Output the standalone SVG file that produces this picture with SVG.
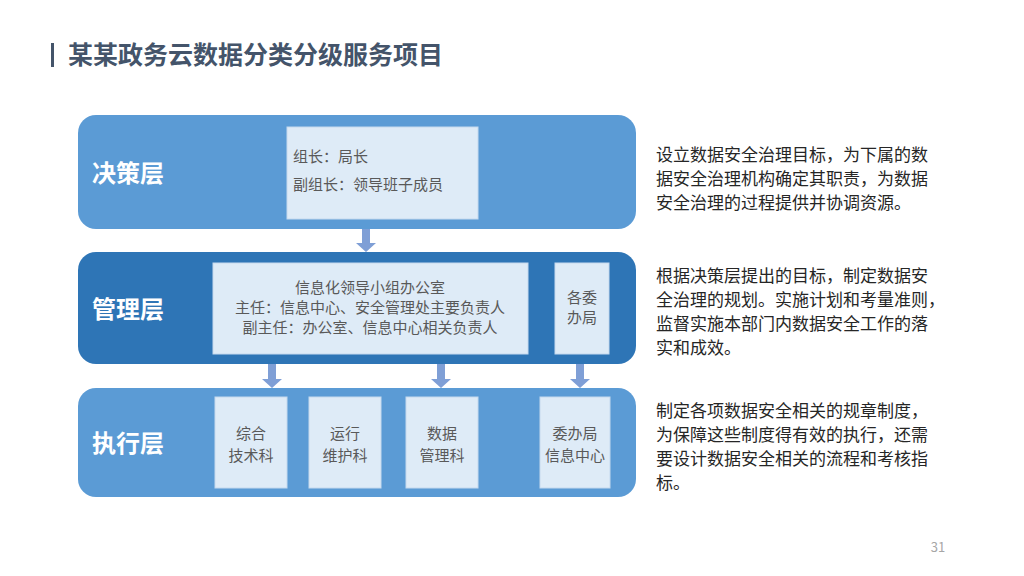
<svg xmlns="http://www.w3.org/2000/svg" width="1024" height="576" viewBox="0 0 1024 576">
<defs>
<style>
text{font-family:"Noto Sans CJK SC","Liberation Sans",sans-serif}
.band{fill:#5b9bd5}
.dark{fill:#2e75b6}
.box{fill:#deebf7;stroke:#c5d9ee;stroke-width:1}
.lbl{fill:#fff;font-size:24px;font-weight:bold}
.t{fill:#595959;font-size:15px}
.c{text-anchor:middle}
.d{fill:#262626;font-size:17px}
.arr{fill:#7f9fd6}
</style>
</defs>
<rect width="1024" height="576" fill="#fff"/>
<rect x="51" y="43" width="3" height="24" fill="#44546a"/>
<text x="68" y="64" font-size="25" font-weight="bold" fill="#44546a">某某政务云数据分类分级服务项目</text>
<g id="decision">
<rect class="band" x="78" y="115" width="558" height="114" rx="18"/>
<text class="lbl" x="92" y="182">决策层</text>
<rect class="box" x="287" y="127" width="191" height="92"/>
<text class="t" x="293" y="162">组长：局长</text>
<text class="t" x="293" y="190">副组长：领导班子成员</text>
</g>
<g id="management">
<rect class="dark" x="78" y="252" width="558" height="112" rx="18"/>
<text class="lbl" x="92" y="318">管理层</text>
<rect class="box" x="213" y="263" width="315" height="91"/>
<text class="t c" x="370" y="293">信息化领导小组办公室</text>
<text class="t c" x="370" y="313">主任：信息中心、安全管理处主要负责人</text>
<text class="t c" x="370" y="333">副主任：办公室、信息中心相关负责人</text>
<rect class="box" x="555" y="263" width="54" height="91"/>
<text class="t c" x="582" y="303">各委</text>
<text class="t c" x="582" y="323">办局</text>
</g>
<g id="execution">
<rect class="band" x="78" y="388" width="558" height="109" rx="18"/>
<text class="lbl" x="92" y="452">执行层</text>
<rect class="box" x="215" y="397" width="72" height="91"/>
<text class="t c" x="251" y="439">综合</text>
<text class="t c" x="251" y="461">技术科</text>
<rect class="box" x="309" y="397" width="72" height="91"/>
<text class="t c" x="345" y="439">运行</text>
<text class="t c" x="345" y="461">维护科</text>
<rect class="box" x="406" y="397" width="72" height="91"/>
<text class="t c" x="442" y="439">数据</text>
<text class="t c" x="442" y="461">管理科</text>
<rect class="box" x="540" y="397" width="70" height="91"/>
<text class="t c" x="575" y="439">委办局</text>
<text class="t c" x="575" y="461">信息中心</text>
</g>
<g id="connectors">
<path class="arr" d="M362 229h8v14h6l-10 9l-10-9h6z"/>
<path class="arr" d="M268 364h8v15h6l-10 9l-10-9h6z"/>
<path class="arr" d="M437 364h8v15h6l-10 9l-10-9h6z"/>
<path class="arr" d="M576 364h8v15h6l-10 9l-10-9h6z"/>
</g>
<g id="notes">
<text class="d" x="656" y="161">设立数据安全治理目标，为下属的数</text>
<text class="d" x="656" y="185">据安全治理机构确定其职责，为数据</text>
<text class="d" x="656" y="209">安全治理的过程提供并协调资源。</text>
<text class="d" x="656" y="282">根据决策层提出的目标，制定数据安</text>
<text class="d" x="656" y="306">全治理的规划。实施计划和考量准则，</text>
<text class="d" x="656" y="330">监督实施本部门内数据安全工作的落</text>
<text class="d" x="656" y="354">实和成效。</text>
<text class="d" x="656" y="417">制定各项数据安全相关的规章制度，</text>
<text class="d" x="656" y="441">为保障这些制度得有效的执行，还需</text>
<text class="d" x="656" y="465">要设计数据安全相关的流程和考核指</text>
<text class="d" x="656" y="489">标。</text>
</g>
<text x="938" y="552" font-size="13" fill="#a6a6a6" text-anchor="middle">31</text>
</svg>
